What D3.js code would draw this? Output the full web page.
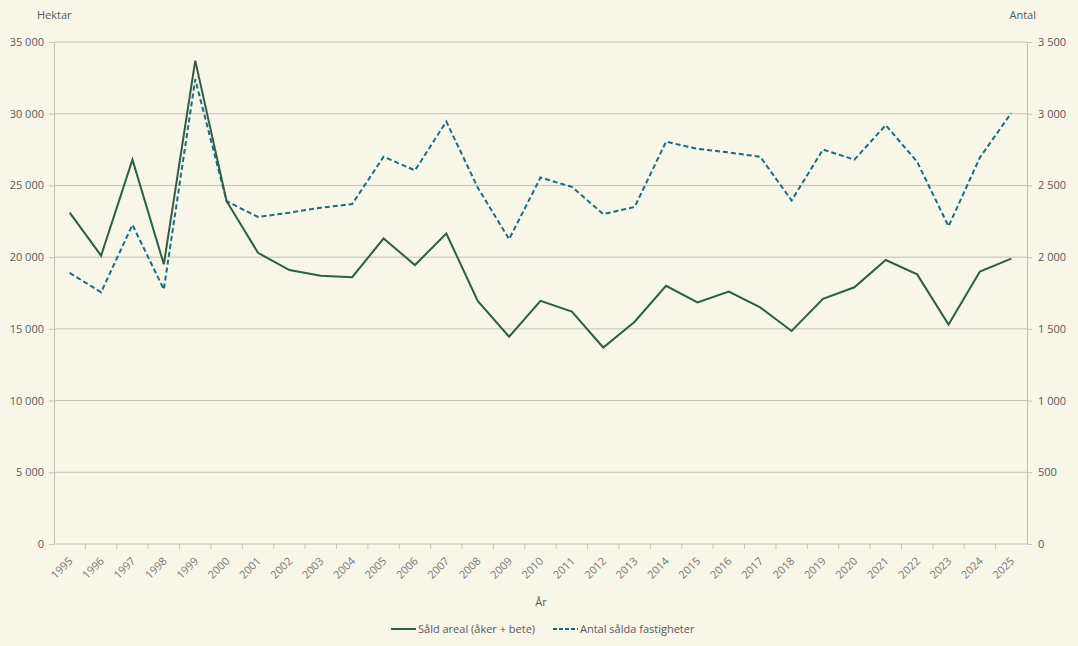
<!DOCTYPE html>
<html>
<head>
<meta charset="utf-8">
<script src="https://cdn.jsdelivr.net/npm/d3@7"></script>
<style>
  body { margin: 0; background: #f8f5e9; }
  svg text { font-family: "Open Sans", "Noto Sans", sans-serif; fill: #5a5a5a; }
</style>
</head>
<body>
<svg id="chart"></svg>
<script>
// data
var years = ['1995','1996','1997','1998','1999','2000','2001','2002','2003','2004',
             '2005','2006','2007','2008','2009','2010','2011','2012','2013','2014',
             '2015','2016','2017','2018','2019','2020','2021','2022','2023','2024','2025'];
var areal = [23100, 20100, 26800, 19500, 33700, 23900, 20300, 19100, 18700, 18600,
             21300, 19450, 21650, 16950, 14450, 16950, 16200, 13700, 15500, 18000,
             16850, 17600, 16500, 14850, 17100, 17900, 19800, 18800, 15300, 19000, 19900];
var antal = [1890, 1755, 2225, 1775, 3240, 2390, 2280, 2310, 2345, 2370,
             2700, 2605, 2945, 2485, 2125, 2555, 2490, 2300, 2350, 2805,
             2755, 2730, 2700, 2395, 2750, 2680, 2920, 2665, 2215, 2695, 3005];
var leftTicks = [0, 5000, 10000, 15000, 20000, 25000, 30000, 35000];
var rightTicks = [0, 500, 1000, 1500, 2000, 2500, 3000, 3500];

var W = 1078, H = 646;
var margin = {top: 42, right: 51, bottom: 102, left: 54};
var width = W - margin.left - margin.right;
var height = H - margin.top - margin.bottom;

var gridColor = '#c5c1b5';
var arealColor = '#2f5e44';
var antalColor = '#1b6a86';

var sv = d3.formatLocale({decimal: ',', thousands: ' ', grouping: [3], currency: ['', ' kr']});
var fmt = sv.format(',d');

var svg = d3.select('#chart').attr('width', W).attr('height', H);
var g = svg.append('g').attr('transform', 'translate(' + margin.left + ',' + margin.top + ')');

var x = d3.scaleBand().domain(years).range([0, width]);
var yL = d3.scaleLinear().domain([0, 35000]).range([height, 0]);
var yR = d3.scaleLinear().domain([0, 3500]).range([height, 0]);

// gridlines
g.append('g').selectAll('line')
    .data(leftTicks.slice(1))
    .enter().append('line')
    .attr('x1', 0).attr('x2', width)
    .attr('y1', function(d) { return yL(d); })
    .attr('y2', function(d) { return yL(d); })
    .attr('stroke', gridColor);

// left axis
var left = g.append('g')
    .call(d3.axisLeft(yL).tickValues(leftTicks).tickFormat(fmt).tickSize(5).tickPadding(5));
left.selectAll('line, path').attr('stroke', gridColor);
left.selectAll('text').attr('font-size', 11).style('fill', '#5a5a5a');

// right axis
var right = g.append('g').attr('transform', 'translate(' + width + ',0)')
    .call(d3.axisRight(yR).tickValues(rightTicks).tickFormat(fmt).tickSize(5).tickPadding(6));
right.selectAll('line, path').attr('stroke', gridColor);
right.selectAll('text').attr('font-size', 11).style('fill', '#5a5a5a');

// bottom axis, ticks between the years
var bottom = g.append('g').attr('transform', 'translate(0,' + height + ')');
bottom.append('line').attr('x1', 0).attr('x2', width).attr('stroke', gridColor);
bottom.selectAll('.tk')
    .data(years.slice(1))
    .enter().append('line')
    .attr('x1', function(d) { return x(d); })
    .attr('x2', function(d) { return x(d); })
    .attr('y1', 0).attr('y2', 5)
    .attr('stroke', gridColor);
bottom.selectAll('.yr')
    .data(years)
    .enter().append('text')
    .attr('font-size', 11)
    .attr('text-anchor', 'end')
    .style('fill', '#777')
    .attr('transform', function(d) {
        return 'translate(' + (x(d) + x.bandwidth() / 2 + 1) + ',15) rotate(-45)';
    })
    .attr('dy', '0.35em')
    .text(function(d) { return d; });

// axis titles
svg.append('text').attr('x', 37).attr('y', 19).attr('font-size', 11).text('Hektar');
svg.append('text').attr('x', 1036).attr('y', 19).attr('font-size', 11).attr('text-anchor', 'end').text('Antal');
svg.append('text').attr('x', 541).attr('y', 606).attr('font-size', 11).attr('text-anchor', 'middle').text('År');

// lines
var cx = function(d, i) { return x(years[i]) + x.bandwidth() / 2; };

g.append('path')
    .datum(antal)
    .attr('fill', 'none')
    .attr('stroke', antalColor)
    .attr('stroke-width', 2)
    .attr('stroke-dasharray', '5,3')
    .attr('d', d3.line().x(cx).y(function(d) { return yR(d); }));

g.append('path')
    .datum(areal)
    .attr('fill', 'none')
    .attr('stroke', arealColor)
    .attr('stroke-width', 2)
    .attr('d', d3.line().x(cx).y(function(d) { return yL(d); }));

// legend
var legend = svg.append('g').attr('transform', 'translate(391,629)');
var items = [
    {name: 'Såld areal (åker + bete)', color: arealColor, dash: null, x: 0},
    {name: 'Antal sålda fastigheter', color: antalColor, dash: '4,2', x: 162}
];
var li = legend.selectAll('g').data(items).enter().append('g')
    .attr('transform', function(d) { return 'translate(' + d.x + ',0)'; });
li.append('line')
    .attr('x1', 0).attr('x2', 25).attr('y1', 0).attr('y2', 0)
    .attr('stroke', function(d) { return d.color; })
    .attr('stroke-width', 2)
    .attr('stroke-dasharray', function(d) { return d.dash; });
li.append('text')
    .attr('x', 27).attr('y', 0).attr('dy', '0.35em')
    .attr('font-size', 11)
    .text(function(d) { return d.name; });
</script>
</body>
</html>
